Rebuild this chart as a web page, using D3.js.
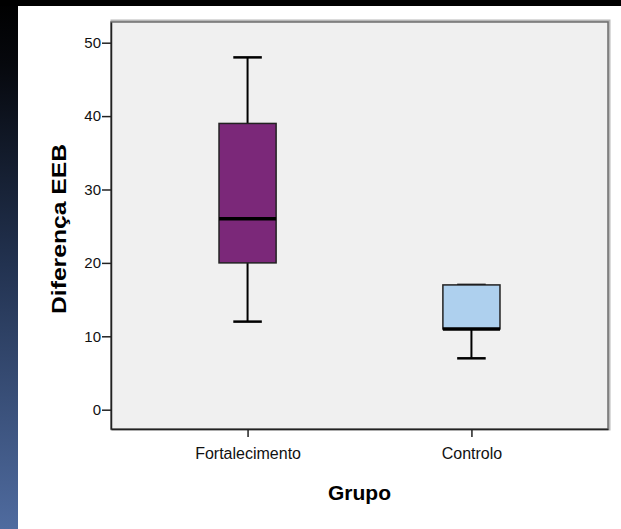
<!DOCTYPE html>
<html>
<head>
<meta charset="utf-8">
<script src="https://cdn.jsdelivr.net/npm/d3@7"></script>
<style>
  html, body { margin: 0; padding: 0; background: #fff; }
  svg { display: block; }
</style>
</head>
<body>
<div id="chart"></div>
<script>
// Box plot data
const groups = ["Fortalecimento", "Controlo"];
const minimums = [12, 7];
const lowerQuartiles = [20, 11];
const medians = [26, 11];
const upperQuartiles = [39, 17];
const maximums = [48, 17];
const boxColors = ["#7b2879", "#aed0ee"];
const yTicks = [0, 10, 20, 30, 40, 50];

const W = 621, H = 529;
const plot = { left: 111, right: 608, top: 22, bottom: 429 };
const font = "Arial, 'Liberation Sans', sans-serif";

const svg = d3.select("#chart").append("svg")
  .attr("width", W)
  .attr("height", H);

// slide background: black band on top, dark-blue gradient on the left
const defs = svg.append("defs");
const grad = defs.append("linearGradient")
  .attr("id", "side")
  .attr("x1", 0).attr("y1", 0).attr("x2", 0).attr("y2", 1);
grad.append("stop").attr("offset", "0%").attr("stop-color", "#000000");
grad.append("stop").attr("offset", "12%").attr("stop-color", "#06080d");
grad.append("stop").attr("offset", "50%").attr("stop-color", "#223250");
grad.append("stop").attr("offset", "100%").attr("stop-color", "#4f6b9f");

svg.append("rect").attr("width", W).attr("height", H).attr("fill", "url(#side)");
svg.append("rect").attr("x", 0).attr("y", 0).attr("width", W).attr("height", 6).attr("fill", "#000");
svg.append("rect").attr("x", 18).attr("y", 6).attr("width", W - 18).attr("height", H - 6).attr("fill", "#fff");

// scales
const x = d3.scalePoint()
  .domain(groups)
  .range([plot.left, plot.right])
  .padding(0.61);

const y = d3.scaleLinear()
  .domain([-2.63, 52.82])
  .range([plot.bottom, plot.top]);

const boxWidth = x.step() * 0.255;
const capWidth = boxWidth / 2;

// plot frame with soft shadow on top/right
svg.append("rect")
  .attr("x", plot.left + 1)
  .attr("y", plot.top - 1)
  .attr("width", plot.right - plot.left)
  .attr("height", plot.bottom - plot.top + 1)
  .attr("fill", "none")
  .attr("stroke", "#b8b8b8")
  .attr("stroke-width", 3);
svg.append("rect")
  .attr("x", plot.left)
  .attr("y", plot.top)
  .attr("width", plot.right - plot.left)
  .attr("height", plot.bottom - plot.top)
  .attr("fill", "#f0f0f0")
  .attr("stroke", "#6e6e6e")
  .attr("stroke-width", 1.5);

// boxes
groups.forEach((g, i) => {
  const cx = x(g);

  // whisker line
  svg.append("line")
    .attr("x1", cx).attr("x2", cx)
    .attr("y1", y(minimums[i])).attr("y2", y(maximums[i]))
    .attr("stroke", "#000")
    .attr("stroke-width", 2);

  // caps
  [minimums[i], maximums[i]].forEach(v => {
    svg.append("line")
      .attr("x1", cx - capWidth / 2).attr("x2", cx + capWidth / 2)
      .attr("y1", y(v)).attr("y2", y(v))
      .attr("stroke", "#000")
      .attr("stroke-width", 2.5);
  });

  // box
  svg.append("rect")
    .attr("x", cx - boxWidth / 2)
    .attr("y", y(upperQuartiles[i]))
    .attr("width", boxWidth)
    .attr("height", y(lowerQuartiles[i]) - y(upperQuartiles[i]))
    .attr("fill", boxColors[i])
    .attr("stroke", "#222")
    .attr("stroke-width", 1.5);

  // median
  svg.append("line")
    .attr("x1", cx - boxWidth / 2).attr("x2", cx + boxWidth / 2)
    .attr("y1", y(medians[i])).attr("y2", y(medians[i]))
    .attr("stroke", "#000")
    .attr("stroke-width", 3.5);
});

// y axis
const yAxis = svg.append("g")
  .attr("transform", `translate(${plot.left},0)`)
  .call(d3.axisLeft(y).tickValues(yTicks).tickSize(9).tickPadding(1).tickSizeOuter(0));
yAxis.select(".domain").attr("stroke", "#222").attr("stroke-width", 1.5);
yAxis.selectAll(".tick line").attr("stroke", "#222").attr("stroke-width", 1.5);
yAxis.selectAll("text")
  .attr("fill", "#111")
  .style("font-family", font)
  .style("font-size", "15px");

// x axis
const xAxis = svg.append("g")
  .attr("transform", `translate(0,${plot.bottom})`)
  .call(d3.axisBottom(x).tickSize(8).tickPadding(11).tickSizeOuter(0));
xAxis.select(".domain").attr("stroke", "#222").attr("stroke-width", 1.5);
xAxis.selectAll(".tick line").attr("stroke", "#222").attr("stroke-width", 1.5);
xAxis.selectAll("text")
  .attr("fill", "#111")
  .style("font-family", font)
  .style("font-size", "16px");

// axis titles
svg.append("text")
  .attr("x", (plot.left + plot.right) / 2)
  .attr("y", 500)
  .attr("text-anchor", "middle")
  .style("font-family", font)
  .style("font-weight", "bold")
  .style("font-size", "21px")
  .text("Grupo");

svg.append("text")
  .attr("transform", `translate(66,229) rotate(-90)`)
  .attr("text-anchor", "middle")
  .attr("textLength", 170)
  .attr("lengthAdjust", "spacingAndGlyphs")
  .style("font-family", font)
  .style("font-weight", "bold")
  .style("font-size", "21px")
  .text("Diferença EEB");
</script>
</body>
</html>
